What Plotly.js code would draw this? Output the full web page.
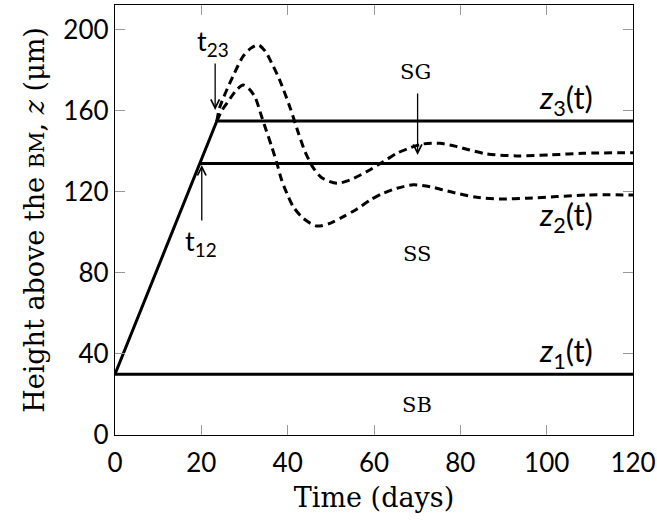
<!DOCTYPE html>
<html><head><meta charset="utf-8">
<script src="https://cdn.plot.ly/plotly-3.0.1.min.js"></script>
<style>html,body{margin:0;padding:0;background:#fff;}</style>
</head><body>
<div id="chart" style="width:657px;height:520px;"></div>
<script>
// Solid model lines
const z1X = [0, 120];
const z1Y = [30, 30];
const z2X = [19.7, 120];
const z2Y = [134, 134];
const z3X = [0, 23.6, 120];
const z3Y = [30, 155, 155];
// Dashed (simulated) curves
const upperX = [23.6, 24.3, 27.3, 29.7, 31.5, 33.2, 34.8, 36.3, 38.2, 40.5, 42.5, 44, 45.9, 47.9, 51.4, 54.4, 58.3, 62.2, 65.3, 68, 71.4, 75.3, 79.2, 82.2, 86.1, 93.1, 100.8, 108.5, 120];
const upperY = [155, 162, 177, 187, 191, 192.6, 189.5, 183.6, 175, 162, 149, 140, 132, 127, 124.3, 125.9, 130, 135, 139.1, 141.5, 143.7, 144, 142.4, 140.7, 138.8, 137.8, 138.3, 139.1, 139.4];
const lowerX = [23.6, 24.7, 26, 28, 29.7, 31, 32.4, 34, 35.1, 36.3, 37.5, 38.6, 39.8, 41.3, 43.6, 46.7, 49.8, 52.9, 56, 59.1, 62.2, 65.3, 69.1, 73, 76, 79.9, 83.8, 89.2, 95.4, 102.3, 109.3, 120];
const lowerY = [155, 160, 164, 170, 172.8, 171, 167, 157, 150, 142.4, 134.2, 125.9, 119.4, 112.7, 107, 103.2, 104.5, 107.8, 111.5, 116, 119.4, 121.8, 123.5, 122.6, 121, 119, 117.4, 116.5, 116.9, 117.7, 118.5, 118.5];
// Axis ticks
const xTicks = [0, 20, 40, 60, 80, 100, 120];
const yTicks = [0, 40, 80, 120, 160, 200];

const dashStyle = {color: '#000', width: 3, dash: '8px,5px', shape: 'spline', smoothing: 0.8};
const solidStyle = {color: '#000', width: 3};

const traces = [
  {x: upperX, y: upperY, mode: 'lines', line: dashStyle, hoverinfo: 'skip'},
  {x: lowerX, y: lowerY, mode: 'lines', line: dashStyle, hoverinfo: 'skip'},
  {x: z1X, y: z1Y, mode: 'lines', line: solidStyle},
  {x: z2X, y: z2Y, mode: 'lines', line: solidStyle},
  {x: z3X, y: z3Y, mode: 'lines', line: solidStyle}
];

const sans = 'Lato, sans-serif';
const serif = '"DejaVu Serif", serif';
function arrow(x, y, ax, ay) {
  return {x: x, y: y, ax: ax, ay: ay, xref: 'x', yref: 'y', axref: 'x', ayref: 'y',
    text: '', showarrow: true, arrowhead: 5, arrowsize: 1.3, arrowwidth: 1.3, arrowcolor: '#000'};
}
function label(x, y, text, font, size) {
  return {x: x, y: y, xref: 'x', yref: 'y', text: text, showarrow: false,
    font: {family: font, size: size, color: '#000'}};
}

const layout = {
  width: 657, height: 520,
  margin: {l: 115, r: 24, t: 5, b: 85},
  paper_bgcolor: '#fff', plot_bgcolor: '#fff',
  showlegend: false,
  xaxis: {
    range: [0, 120], tickvals: xTicks, ticktext: xTicks.map(String),
    ticks: 'inside', ticklen: 10, tickwidth: 1, tickcolor: '#999',
    showline: true, linecolor: '#000', linewidth: 1.2, mirror: 'ticks',
    showgrid: false, zeroline: false, ticklabelstandoff: 5,
    tickfont: {family: sans, size: 26, color: '#000'},
    title: {text: 'Time (days)', font: {family: serif, size: 27, color: '#000'}, standoff: 10}
  },
  yaxis: {
    range: [0, 212.3], tickvals: yTicks, ticktext: yTicks.map(String),
    ticks: 'inside', ticklen: 10, tickwidth: 1, tickcolor: '#999',
    showline: true, linecolor: '#000', linewidth: 1.2, mirror: 'ticks',
    showgrid: false, zeroline: false,
    tickfont: {family: sans, size: 26, color: '#000'},
    title: {text: 'Height above the <span style="font-size:21px">BM</span>, <i>z</i> (μm)', font: {family: serif, size: 27, color: '#000'}, standoff: 10}
  },
  annotations: [
    label(22.7, 194, 't<sub>23</sub>', sans, 27),
    arrow(23.2, 160.5, 23.2, 184.2),
    label(19.9, 94.8, 't<sub>12</sub>', sans, 27),
    arrow(20.1, 133.3, 20.1, 105.2),
    label(69.5, 179, 'SG', serif, 21),
    arrow(70.1, 138.3, 70.1, 169.4),
    label(104.5, 165.4, '<i>z</i><sub>3</sub>(t)', sans, 31),
    label(104.5, 107.7, '<i>z</i><sub>2</sub>(t)', sans, 31),
    label(104.5, 40.5, '<i>z</i><sub>1</sub>(t)', sans, 31),
    label(70, 89.4, 'SS', serif, 21),
    label(70, 14.8, 'SB', serif, 21)
  ]
};

Plotly.newPlot('chart', traces, layout, {displayModeBar: false, staticPlot: true});
</script>
</body></html>
